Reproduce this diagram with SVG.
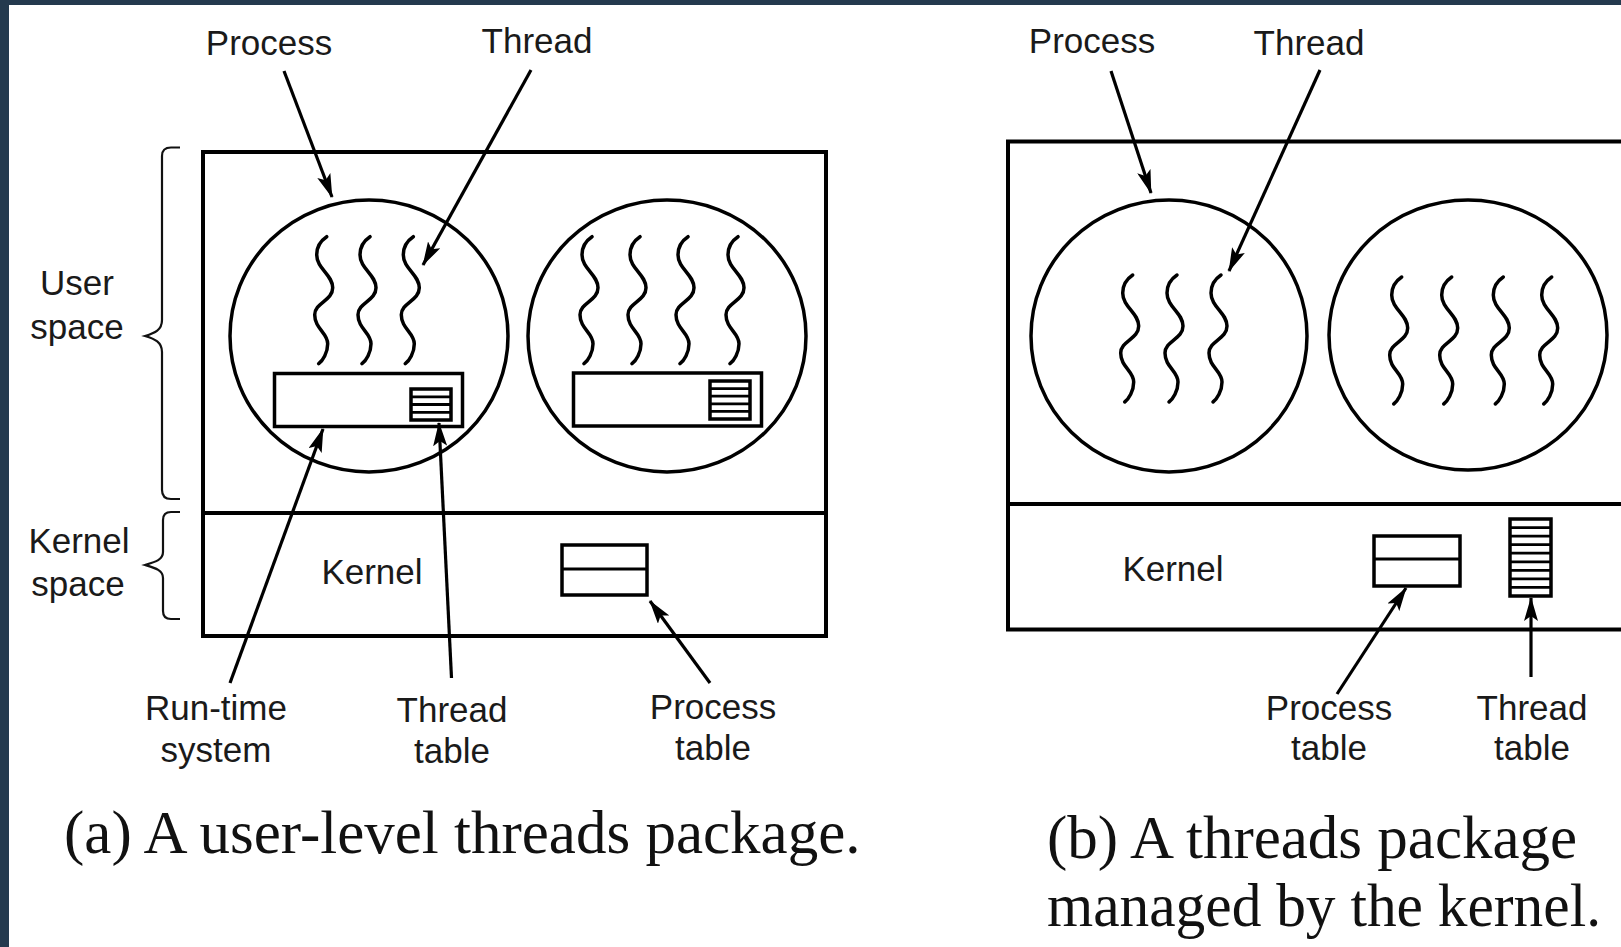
<svg xmlns="http://www.w3.org/2000/svg" xmlns:xlink="http://www.w3.org/1999/xlink" width="1621" height="947" viewBox="0 0 1621 947">
<style>
.box{fill:none;stroke:#000;stroke-width:4}
.circ{fill:none;stroke:#000;stroke-width:3.5}
.thr{fill:none;stroke:#000;stroke-width:3.5;stroke-linecap:round}
.tbl{fill:#fff;stroke:#000;stroke-width:3.5}
.ln{stroke:#000;stroke-width:2.8}
.brace{fill:none;stroke:#111;stroke-width:2.2}
.arr{fill:none;stroke:#000;stroke-width:3.2;marker-end:url(#ah)}
.lbl{font-family:"Liberation Sans",Arial,Helvetica,sans-serif;font-size:35px;fill:#1a1a1a;text-anchor:middle}
.cap{font-family:"Liberation Serif","Times New Roman",serif;font-size:61px;fill:#111}
</style>
<defs>
<marker id="ah" markerUnits="userSpaceOnUse" markerWidth="24" markerHeight="14" refX="23" refY="7" orient="auto">
<path d="M0,0 L24,7 L0,14 L5,7 z" fill="#000"/>
</marker>
<path id="thr" class="thr" d="M0,0 C-6,4 -10,10 -10,18 C-10,32 6,38 6,51 C6,64 -12,66 -12,78 C-12,92 1,96 1,107 C1,116 -4,124 -8,127"/>
</defs>
<rect x="0" y="0" width="1621" height="947" fill="#fff"/>
<rect x="0" y="0" width="9" height="947" fill="#243a4e"/>
<rect x="0" y="0" width="1621" height="5" fill="#243a4e"/>

<!-- Panel (a) -->
<g id="a-system">
<rect class="box" x="203" y="152" width="623" height="484"/>
<line class="box" x1="203" y1="513" x2="826" y2="513"/>
<text class="lbl" x="372" y="584">Kernel</text>
</g>
<g id="a-braces">
<path class="brace" d="M180,147.5 L171,147.5 Q162,147.5 162,156 L162,320 C162,330 155,333 145,336 C155,339 162,342 162,352 L162,490 Q162,499 171,499 L180,499"/>
<path class="brace" d="M180,512 L171,512 Q163,512 163,520 L163,552 C163,560 155,562 145,565 C155,568 163,570 163,578 L163,611 Q163,619 171,619 L180,619"/>
<text class="lbl" x="77" y="295">User</text>
<text class="lbl" x="77" y="339">space</text>
<text class="lbl" x="79" y="553">Kernel</text>
<text class="lbl" x="78" y="596">space</text>
</g>
<g id="a-process1">
<ellipse class="circ" cx="369" cy="336" rx="139" ry="136"/>
<use xlink:href="#thr" x="326.7" y="236.7"/>
<use xlink:href="#thr" x="370" y="236.7"/>
<use xlink:href="#thr" x="413.3" y="236.7"/>
</g>
<g id="a-runtime1">
<rect class="tbl" x="274.5" y="373.5" width="188" height="53"/>
<rect class="tbl" x="411" y="389" width="40" height="31"/>
<line class="ln" x1="411" y1="396.8" x2="451" y2="396.8"/>
<line class="ln" x1="411" y1="404.5" x2="451" y2="404.5"/>
<line class="ln" x1="411" y1="412.3" x2="451" y2="412.3"/>
</g>
<g id="a-process2">
<ellipse class="circ" cx="667" cy="336" rx="139" ry="136"/>
<use xlink:href="#thr" x="592" y="236.7"/>
<use xlink:href="#thr" x="640" y="236.7"/>
<use xlink:href="#thr" x="688" y="236.7"/>
<use xlink:href="#thr" x="738" y="236.7"/>
</g>
<g id="a-runtime2">
<rect class="tbl" x="573.5" y="373" width="188" height="53"/>
<rect class="tbl" x="710" y="381" width="40" height="38"/>
<line class="ln" x1="710" y1="388.6" x2="750" y2="388.6"/>
<line class="ln" x1="710" y1="396.2" x2="750" y2="396.2"/>
<line class="ln" x1="710" y1="403.8" x2="750" y2="403.8"/>
<line class="ln" x1="710" y1="411.4" x2="750" y2="411.4"/>
</g>
<g id="a-proctable">
<rect class="tbl" x="562" y="545" width="85" height="50"/>
<line class="ln" x1="562" y1="569" x2="647" y2="569"/>
</g>
<g id="a-labels">
<text class="lbl" x="269" y="55">Process</text>
<text class="lbl" x="537" y="53">Thread</text>
<text class="lbl" x="216" y="720">Run-time</text>
<text class="lbl" x="216" y="762">system</text>
<text class="lbl" x="452" y="722">Thread</text>
<text class="lbl" x="452" y="763">table</text>
<text class="lbl" x="713" y="719">Process</text>
<text class="lbl" x="713" y="760">table</text>
</g>
<text id="cap-a" class="cap" x="64" y="853">(a) A user-level threads package.</text>

<!-- Panel (b) -->
<g id="b-system">
<rect class="box" x="1008" y="141.5" width="640" height="488"/>
<line class="box" x1="1008" y1="504" x2="1648" y2="504"/>
<text class="lbl" x="1173" y="581">Kernel</text>
</g>
<g id="b-process1">
<ellipse class="circ" cx="1169" cy="336" rx="138" ry="136"/>
<use xlink:href="#thr" x="1132.7" y="275"/>
<use xlink:href="#thr" x="1177" y="275"/>
<use xlink:href="#thr" x="1221" y="275"/>
</g>
<g id="b-process2">
<ellipse class="circ" cx="1468" cy="335" rx="139" ry="135"/>
<use xlink:href="#thr" x="1401.7" y="277"/>
<use xlink:href="#thr" x="1451.7" y="277"/>
<use xlink:href="#thr" x="1503.3" y="277"/>
<use xlink:href="#thr" x="1551.7" y="277"/>
</g>
<g id="b-proctable">
<rect class="tbl" x="1374" y="536" width="86" height="50"/>
<line class="ln" x1="1374" y1="559" x2="1460" y2="559"/>
</g>
<g id="b-threadtable">
<rect class="tbl" x="1510" y="519" width="41" height="77"/>
<line class="ln" x1="1510" y1="527.6" x2="1551" y2="527.6"/>
<line class="ln" x1="1510" y1="536.1" x2="1551" y2="536.1"/>
<line class="ln" x1="1510" y1="544.7" x2="1551" y2="544.7"/>
<line class="ln" x1="1510" y1="553.2" x2="1551" y2="553.2"/>
<line class="ln" x1="1510" y1="561.8" x2="1551" y2="561.8"/>
<line class="ln" x1="1510" y1="570.3" x2="1551" y2="570.3"/>
<line class="ln" x1="1510" y1="578.9" x2="1551" y2="578.9"/>
<line class="ln" x1="1510" y1="587.4" x2="1551" y2="587.4"/>
</g>
<g id="b-labels">
<text class="lbl" x="1092" y="53">Process</text>
<text class="lbl" x="1309" y="55">Thread</text>
<text class="lbl" x="1329" y="720">Process</text>
<text class="lbl" x="1329" y="760">table</text>
<text class="lbl" x="1532" y="720">Thread</text>
<text class="lbl" x="1532" y="760">table</text>
</g>
<g id="cap-b">
<text class="cap" x="1047" y="858">(b) A threads package</text>
<text class="cap" x="1047" y="926" textLength="554" lengthAdjust="spacingAndGlyphs">managed by the kernel.</text>
</g>

<g id="connectors">
<line class="arr" x1="284" y1="71" x2="332" y2="197"/>
<line class="arr" x1="531" y1="70" x2="423" y2="265"/>
<line class="arr" x1="230" y1="683" x2="323" y2="429"/>
<line class="arr" x1="451.5" y1="678" x2="439" y2="423"/>
<line class="arr" x1="710" y1="683" x2="650" y2="601"/>
<line class="arr" x1="1111" y1="71" x2="1151" y2="193"/>
<line class="arr" x1="1320" y1="70" x2="1229" y2="271"/>
<line class="arr" x1="1337" y1="694" x2="1406" y2="588"/>
<line class="arr" x1="1531" y1="677" x2="1531" y2="598"/>
</g>
</svg>
